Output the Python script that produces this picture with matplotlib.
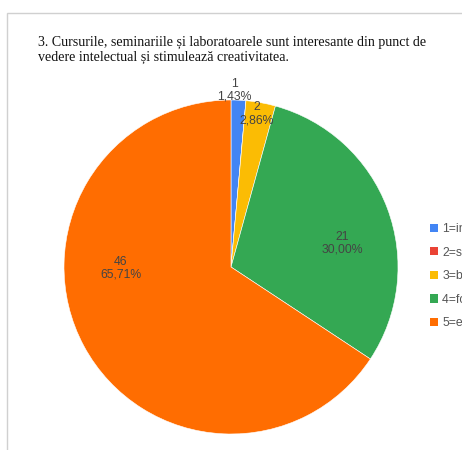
import numpy as np
from matplotlib import pyplot as plt
from matplotlib.patches import Rectangle, Patch

plt.rcParams['font.family'] = ['Liberation Sans', 'DejaVu Sans']

# Data
categories = ["1=insuficient", "2=satisfăcător", "3=bine", "4=foarte bine", "5=excelent"]
counts = [1, 0, 2, 21, 46]
colors = ["#4285F4", "#EA4335", "#FBBC04", "#34A853", "#FF6D01"]
title = ("3. Cursurile, seminariile și laboratoarele sunt interesante din punct de\n"
         "vedere intelectual și stimulează creativitatea.")

# label placement (angle in degrees, radius) per slice
label_pos = [(89, 1.06), None, (80.4, 0.93), (12, 0.68), (180.5, 0.66)]

W, H = 462, 450
fig = plt.figure(figsize=(W / 100, H / 100), dpi=100)

# frame of the original chart box
fig.patches.append(Rectangle((7 / W, -0.1), 1.2, (H - 13) / H + 0.1,
                             transform=fig.transFigure, fill=False,
                             edgecolor="#d0d0d0", linewidth=1))

fig.text(38 / W, 1 - 36 / H, title, fontsize=10.1, family="Liberation Serif",
         va="top", ha="left", linespacing=1.2, color="#111111")

cx, cy, r = 231, 267, 167
ax = fig.add_axes([(cx - r) / W, (H - cy - r) / H, 2 * r / W, 2 * r / H])
ax.pie(counts, colors=colors, startangle=90, counterclock=False, radius=1,
       wedgeprops=dict(linewidth=0.4, edgecolor="white"))
ax.set_xlim(-1, 1)
ax.set_ylim(-1, 1)
ax.set_aspect("auto")

total = sum(counts)
for n, pos in zip(counts, label_pos):
    if pos is None:
        continue
    ang, rad = pos
    pct = f"{100 * n / total:.2f}".replace(".", ",")
    ax.text(rad * np.cos(np.radians(ang)), rad * np.sin(np.radians(ang)),
            f"{n}\n{pct}%", ha="center", va="center", fontsize=8.8,
            color="#444444", linespacing=1.1, clip_on=False)

handles = [Patch(facecolor=c, edgecolor="none") for c in colors]
fig.legend(handles, categories, loc="upper left",
           bbox_to_anchor=(430 / W, 1 - 223 / H), frameon=False,
           fontsize=8.8, labelcolor="#555555", handlelength=0.65,
           handleheight=0.65, handletextpad=0.35, labelspacing=0.95,
           borderaxespad=0, borderpad=0)

plt.savefig("out.png", dpi=100)
